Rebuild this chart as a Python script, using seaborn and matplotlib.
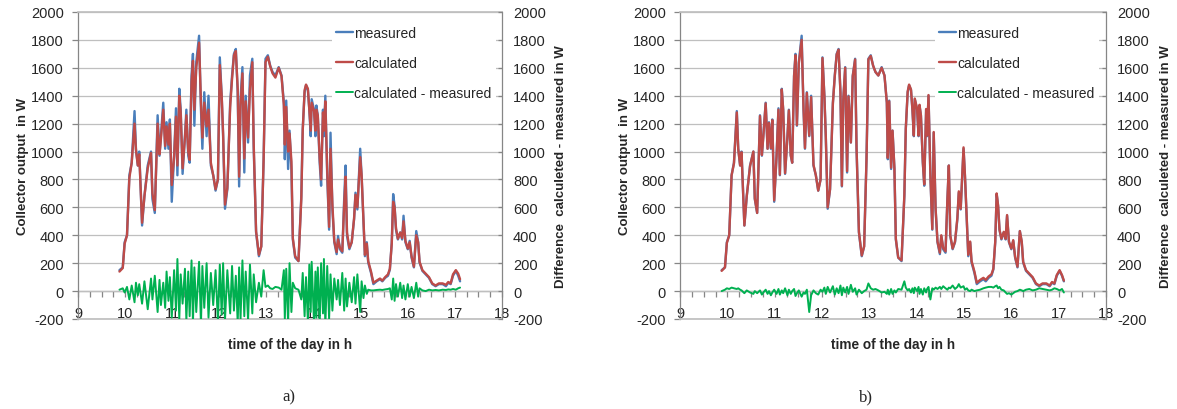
import numpy as np
import seaborn as sns
from matplotlib import pyplot as plt

# time of day (h), shared by every series
hours = [
    9.88, 9.95, 9.99, 10.04, 10.09, 10.14, 10.20, 10.23, 10.27, 10.30,
    10.36, 10.41, 10.48, 10.55, 10.58, 10.63, 10.69, 10.73, 10.76, 10.81,
    10.85, 10.88, 10.92, 10.95, 10.99, 11.04, 11.08, 11.11, 11.15, 11.18,
    11.22, 11.27, 11.30, 11.34, 11.37, 11.41, 11.44, 11.47, 11.51, 11.57,
    11.61, 11.64, 11.68, 11.73, 11.77, 11.82, 11.87, 11.92, 11.97, 12.01,
    12.05, 12.08, 12.12, 12.17, 12.23, 12.27, 12.31, 12.35, 12.39, 12.42,
    12.45, 12.49, 12.53, 12.56, 12.61, 12.65, 12.70, 12.73, 12.78, 12.84,
    12.89, 12.94, 12.98, 13.03, 13.08, 13.13, 13.19, 13.26, 13.32, 13.37,
    13.39, 13.42, 13.46, 13.49, 13.53, 13.56, 13.61, 13.68,
    13.74, 13.77, 13.81, 13.84, 13.88, 13.91, 13.94, 13.96, 14.01, 14.04, 14.06, 14.09,
    14.13, 14.16, 14.20, 14.22, 14.25, 14.29, 14.33, 14.36, 14.40, 14.44,
    14.49, 14.52, 14.56, 14.61, 14.65, 14.68, 14.71, 14.76, 14.81, 14.86,
    14.89, 14.93, 14.99, 15.02, 15.06, 15.09, 15.13, 15.16, 15.22, 15.27,
    15.34, 15.41, 15.46, 15.52, 15.58, 15.62, 15.66, 15.69, 15.72, 15.75,
    15.79, 15.84, 15.88, 15.91, 15.95, 16.00, 16.04, 16.08, 16.13, 16.18,
    16.22, 16.25, 16.31, 16.38, 16.45, 16.52, 16.59, 16.66, 16.74, 16.81,
    16.86, 16.91, 16.96, 17.02, 17.07, 17.11,
]

# collector output (W), the same measurement in both panels
measured = [
    150, 170, 350, 400, 830, 920, 1290, 1020, 900, 1000,
    470, 680, 900, 1000, 660, 560, 1260, 970, 1110, 1350,
    1020, 1210, 1020, 1230, 640, 970, 1310, 830, 1450, 1300,
    840, 1110, 1300, 970, 920, 1545, 1700, 1185, 1640, 1830,
    1300, 1020, 1425, 1110, 1400, 900, 830, 720, 800, 1675,
    1400, 1110, 590, 730, 1350, 1545, 1700, 1735, 1425, 750,
    1375, 1605, 850, 1400, 1065, 1545, 1665, 1020, 420, 250,
    320, 945, 1665, 1690, 1615, 1570, 1545, 1605, 1545, 1350,
    945, 1365, 875, 1150, 875, 370, 240, 215,
    680, 1160, 1425, 1475, 1440, 1300, 1110, 1375, 1300, 1110, 1330, 1255,
    920, 755, 1300, 1110, 1400, 825, 440, 1135, 585, 350,
    265, 395, 300, 275, 660, 900, 395, 300, 350, 515,
    705, 585, 1020, 825, 490, 250, 350, 205, 130, 50,
    70, 85, 70, 95, 110, 155, 350, 695, 610, 440,
    370, 420, 370, 540, 350, 300, 360, 240, 170, 430,
    350, 205, 145, 120, 95, 50, 35, 50, 50, 35,
    60, 50, 110, 145, 110, 70,
]

calculated_a = [
    140, 165, 340, 400, 810, 920, 1200, 1010, 900, 980,
    490, 680, 880, 990, 700, 580, 1200, 980, 1090, 1300,
    1040, 1180, 1050, 1200, 760, 960, 1250, 900, 1400, 1280,
    880, 1100, 1260, 1000, 940, 1500, 1650, 1300, 1600, 1780,
    1350, 1100, 1350, 1180, 1300, 920, 830, 730, 800, 1620,
    1400, 1130, 620, 740, 1320, 1520, 1690, 1720, 1450, 820,
    1330, 1560, 950, 1360, 1100, 1450, 1640, 1050, 430, 260,
    320, 940, 1640, 1680, 1610, 1560, 1530, 1600, 1540, 1330,
    1050, 1320, 1000, 1130, 930, 380, 250, 215,
    660, 1150, 1440, 1480, 1450, 1300, 1150, 1350, 1290, 1150, 1300, 1260,
    950, 800, 1280, 1150, 1360, 860, 460, 1020, 620, 360,
    280, 370, 310, 285, 620, 820, 420, 310, 350, 520,
    690, 600, 960, 830, 500, 260, 340, 215, 140, 60,
    75, 90, 75, 100, 120, 160, 340, 640, 600, 450,
    375, 420, 380, 500, 360, 305, 350, 250, 175, 400,
    350, 210, 150, 125, 100, 55, 40, 55, 55, 45,
    65, 55, 120, 150, 125, 85,
]

calculated_b = [
    145, 170, 345, 400, 830, 915, 1280, 1020, 900, 995,
    470, 680, 895, 1000, 665, 560, 1255, 975, 1105, 1345,
    1020, 1205, 1025, 1225, 650, 965, 1300, 835, 1445, 1300,
    845, 1105, 1295, 975, 920, 1540, 1690, 1190, 1630, 1800,
    1305, 1025, 1420, 1115, 1390, 905, 830, 720, 800, 1670,
    1400, 1110, 600, 730, 1345, 1540, 1695, 1730, 1420, 755,
    1370, 1600, 860, 1395, 1065, 1540, 1660, 1025, 425, 255,
    320, 940, 1660, 1685, 1615, 1570, 1545, 1600, 1545, 1350,
    955, 1360, 885, 1150, 880, 375, 240, 220,
    690, 1165, 1430, 1480, 1445, 1305, 1115, 1380, 1305, 1115, 1335, 1260,
    925, 765, 1305, 1115, 1405, 830, 445, 1140, 590, 355,
    275, 400, 310, 285, 665, 900, 400, 305, 355, 525,
    715, 590, 1030, 830, 495, 260, 355, 215, 140, 60,
    80, 95, 80, 105, 120, 160, 355, 700, 615, 440,
    375, 425, 375, 545, 355, 305, 365, 245, 175, 430,
    355, 210, 150, 125, 100, 55, 40, 55, 55, 40,
    65, 55, 115, 150, 115, 75,
]

# calculated - measured (W)
diff_a = [
    10, 20, -10, 30, -60, 40, -80, 60, -30, 50,
    -90, 70, -130, 90, -60, 110, -150, 80, -100, 60,
    -120, 140, -70, 100, -190, 150, -140, 230, -200, 120,
    -90, 160, -210, 140, -180, 220, -230, 170, -150, 210,
    -240, 180, -120, 200, -190, 130, -100, 150, -220, 190,
    -170, 200, -210, 150, -160, 180, -140, 110, -230, 170,
    -200, 220, -180, 140, -210, 190, -160, 120, -80, 60,
    -40, 150, 30, 40, 20, 15, 30, 25, 10, 150,
    -200, 160, -230, 200, -150, 60, 20, 10,
    -60, 130, -180, 100, -220, 190, -150, 210, -230, 140, -190, 170,
    -240, 200, -160, 230, -250, 180, -200, 120, -140, 90,
    -60, 80, -100, 130, -140, 90, -110, 60, -80, 100,
    -90, 120, -150, 70, -50, 40, -20, 10, 5, 5,
    8, 10, 8, 12, 15, 20, -60, 90, -70, 50,
    -40, 60, -50, 40, -60, 50, -40, 30, -50, 60,
    -40, 20, 5, 0, 10, 5, 8, 5, 10, 8,
    12, 10, 15, 10, 20, 25,
]

diff_b = [
    0, 10, 20, 15, 25, 20, 15, 20, 10, 5,
    -15, 5, -10, -20, 0, -15, 5, -25, -10, 10,
    -20, 0, -30, -10, 10, -20, 15, -25, 5, -15,
    20, -30, 10, -20, 0, 15, -35, -15, 5, -40,
    -10, -20, 10, -150, -30, 5, -15, -25, 10, -5,
    25, -20, 30, -10, 35, -25, 20, -15, 40, -30,
    25, -10, 30, -20, 45, -5, 20, -25, 10, -15,
    0, 10, 55, 20, 10, 15, 5, -10, -5, -20,
    10, -25, 15, -20, 5, -10, 15, 10,
    70, 25, 5, 15, -10, 20, -15, 25, 0, 30, -20, 15,
    -25, 20, -10, 15, 30, -60, 20, 10, 25, 15,
    30, 15, 35, 20, 10, 25, 20, 40, 15, 30,
    50, 25, 35, 10, 20, 5, 0, 10, 0, 5,
    10, 20, 25, 30, 30, 25, 35, 40, 20, 30,
    10, 5, -10, -20, -15, -25, -15, -5, 0, 10,
    5, 0, 10, 15, 5, 10, 20, 15, 10, 5,
    10, 20, 15, 5, 15, -10,
]

for series in (measured, calculated_a, calculated_b, diff_a, diff_b):
    assert len(series) == len(hours), len(series)

y_ticks = list(range(-200, 2001, 200))
x_ticks = list(range(9, 19))

colors = {
    "measured": "#4A7EBB",
    "calculated": "#BE4B48",
    "calculated - measured": "#00B050",
}
AXIS_GRAY = "#868686"
GRID_GRAY = "#BFBFBF"

sns.set_theme(style="white")
plt.rcParams["font.family"] = ["Liberation Sans", "DejaVu Sans"]
plt.rcParams["axes.unicode_minus"] = False

fig = plt.figure(figsize=(11.77, 4.10), dpi=100)


def draw_panel(rect, calculated, diff, caption, caption_x):
    ax = fig.add_axes(rect)
    ax2 = ax.twinx()

    sns.lineplot(x=hours, y=measured, ax=ax, color=colors["measured"],
                 lw=1.7, estimator=None, label="measured")
    sns.lineplot(x=hours, y=calculated, ax=ax, color=colors["calculated"],
                 lw=1.7, estimator=None, label="calculated")
    sns.lineplot(x=hours, y=diff, ax=ax2, color=colors["calculated - measured"],
                 lw=1.4, estimator=None, label="calculated - measured")
    for a in (ax, ax2):
        if a.get_legend() is not None:
            a.get_legend().remove()

    for a in (ax, ax2):
        a.set_xlim(9, 18)
        a.set_ylim(-200, 2000)
        a.set_yticks(y_ticks)
        a.set_xlabel("")
        a.set_ylabel("")

    # gridlines
    ax.set_axisbelow(True)
    ax.yaxis.grid(True, color=GRID_GRAY, lw=0.9)
    ax.xaxis.grid(False)

    # spines
    ax.spines["left"].set_color(AXIS_GRAY)
    ax.spines["left"].set_linewidth(0.9)
    ax.spines["bottom"].set_color(GRID_GRAY)
    ax.spines["top"].set_color(GRID_GRAY)
    ax.spines["right"].set_visible(False)
    for side in ("left", "top", "bottom"):
        ax2.spines[side].set_visible(False)
    ax2.spines["right"].set_color(AXIS_GRAY)
    ax2.spines["right"].set_linewidth(0.9)

    # ticks
    ax.set_xticks(x_ticks)
    ax.tick_params(axis="x", bottom=True, length=0, pad=-9, labelsize=10.5)
    ax.tick_params(axis="y", left=True, direction="out", length=4,
                   color=AXIS_GRAY, width=0.9, pad=6, labelsize=10.5)
    ax2.tick_params(axis="y", right=True, direction="in", length=3,
                    color=AXIS_GRAY, width=0.9, pad=8, labelsize=10.5)
    ax2.tick_params(axis="x", bottom=False, top=False, labelbottom=False)

    # horizontal axis line at zero
    zero_axis = ax.secondary_xaxis(200 / 2200)
    zero_axis.set_xticks(np.arange(9, 18.01, 0.25))
    zero_axis.tick_params(axis="x", bottom=True, direction="out", length=4,
                          color=AXIS_GRAY, width=0.9, labelbottom=False)
    for side in ("top", "bottom"):
        zero_axis.spines[side].set_color(AXIS_GRAY)
        zero_axis.spines[side].set_linewidth(0.9)

    # axis titles
    ax.text(-0.13, 0.5, "Collector output  in W", rotation=90,
            transform=ax.transAxes, ha="center", va="center",
            fontsize=9.5, fontweight="bold")
    ax.text(1.14, 0.5, "Difference  calculeted - measured in W", rotation=90,
            transform=ax.transAxes, ha="center", va="center",
            fontsize=9.5, fontweight="bold")
    ax.text(0.5, -0.081, "time of the day in h", transform=ax.transAxes,
            ha="center", va="center", fontsize=9.8, fontweight="bold")

    handles, labels = [], []
    for a in (ax, ax2):
        h, l = a.get_legend_handles_labels()
        handles += h
        labels += l
    ax2.legend(handles, labels, loc="upper left", bbox_to_anchor=(0.599, 0.968),
               borderaxespad=0, borderpad=0.3, fontsize=10, handlelength=1.2,
               handletextpad=0.1, labelspacing=1.15, frameon=True,
               facecolor="white", edgecolor="none", framealpha=1, fancybox=False)

    fig.text(caption_x, 1 - 397 / 410, caption, ha="center", va="center",
             fontsize=12, family=["Liberation Serif", "DejaVu Serif"])


draw_panel([78 / 1177, 90 / 410, 424 / 1177, 307 / 410], calculated_a, diff_a, "a)", 289 / 1177)
draw_panel([680 / 1177, 90 / 410, 426 / 1177, 307 / 410], calculated_b, diff_b, "b)", 866 / 1177)

fig.savefig("out.png", dpi=100)
